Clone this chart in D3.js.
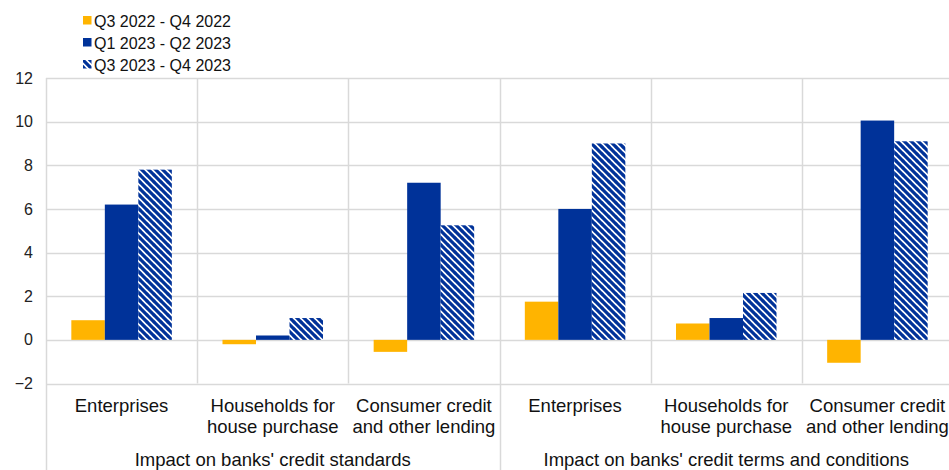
<!DOCTYPE html>
<html>
<head>
<meta charset="utf-8">
<script src="https://cdn.jsdelivr.net/npm/d3@7"></script>
<style>
  html, body { margin: 0; padding: 0; background: #fff; }
  svg { display: block; font-family: "Liberation Sans", Arial, sans-serif; }
</style>
</head>
<body>
<svg id="chart" width="949" height="470"></svg>
<script>
// Loan categories, grouped by the two survey questions
const groups = ["Impact on banks' credit standards", "Impact on banks' credit terms and conditions"];
const categoryLines = [
  ["Enterprises"],
  ["Households for", "house purchase"],
  ["Consumer credit", "and other lending"]
];
const seriesNames = ["Q3 2022 - Q4 2022", "Q1 2023 - Q2 2023", "Q3 2023 - Q4 2023"];

// Values per category: standards (3), then terms and conditions (3)
const q3q4_2022 = [0.9, -0.2, -0.55, 1.75, 0.75, -1.05];
const q1q2_2023 = [6.2, 0.2, 7.2, 6.0, 1.0, 10.05];
const q3q4_2023 = [7.8, 1.0, 5.25, 9.0, 2.15, 9.1];

const yTicks = [-2, 0, 2, 4, 6, 8, 10, 12];

const YELLOW = "#FFB400";
const BLUE = "#003299";
const GRID = "#d9d9d9";

const svg = d3.select("#chart");

// Diagonal stripe fill for the latest period
const defs = svg.append("defs");
const pat = defs.append("pattern")
  .attr("id", "stripes")
  .attr("patternUnits", "userSpaceOnUse")
  .attr("width", 7).attr("height", 7);
pat.append("rect").attr("width", 7).attr("height", 7).attr("fill", "#fff");
pat.append("path")
  .attr("d", "M-1,-1 L8,8 M-1,6 L1,8 M6,-1 L8,1")
  .attr("stroke", BLUE).attr("stroke-width", 3.2);

const plotLeft = 46, plotRight = 953, plotTop = 78, plotBottom = 383.5;

const cells = d3.range(6);
const x0 = d3.scaleBand().domain(cells).range([plotLeft, plotRight]).paddingInner(0).paddingOuter(0);
const x1 = d3.scaleBand().domain(d3.range(3)).range([0, x0.bandwidth()]).paddingInner(0).paddingOuter(0.756);
const y = d3.scaleLinear().domain([-2, 12]).range([plotBottom, plotTop]);

// Horizontal grid lines
svg.append("g").selectAll("line").data(yTicks).join("line")
  .attr("x1", plotLeft).attr("x2", 949)
  .attr("y1", d => Math.round(y(d)) + 0.5).attr("y2", d => Math.round(y(d)) + 0.5)
  .attr("stroke", GRID).attr("stroke-width", 1.3);

// Vertical separators between categories
svg.append("g").selectAll("line").data(cells).join("line")
  .attr("x1", d => Math.round(x0(d)) + 0.5).attr("x2", d => Math.round(x0(d)) + 0.5)
  .attr("y1", plotTop)
  .attr("y2", d => (d % 3 === 0) ? 470 : plotBottom)
  .attr("stroke", GRID).attr("stroke-width", 1.5);

// Y axis tick labels
const yAxis = d3.axisLeft(y).tickValues(yTicks).tickSize(0).tickPadding(0);
const gy = svg.append("g").attr("transform", "translate(33,0)").call(yAxis);
gy.select(".domain").remove();
gy.selectAll("text")
  .attr("font-size", 16).attr("fill", "#222")
  .attr("font-family", "Liberation Sans, Arial, sans-serif");

// Bars
const series = [
  { values: q3q4_2022, fill: YELLOW },
  { values: q1q2_2023, fill: BLUE },
  { values: q3q4_2023, fill: "url(#stripes)" }
];
series.forEach((s, si) => {
  svg.append("g").selectAll("rect").data(s.values).join("rect")
    .attr("x", (v, i) => x0(i) + x1(si))
    .attr("width", x1.bandwidth())
    .attr("y", v => y(Math.max(0, v)))
    .attr("height", v => Math.abs(y(v) - y(0)))
    .attr("fill", s.fill);
});

// Category labels
const catG = svg.append("g").attr("font-size", 18.5).attr("fill", "#111").attr("text-anchor", "middle");
cells.forEach(i => {
  const lines = categoryLines[i % 3];
  const t = catG.append("text")
    .attr("x", x0(i) + x0.bandwidth() / 2)
    .attr("y", 412);
  lines.forEach((ln, k) => {
    t.append("tspan").attr("x", x0(i) + x0.bandwidth() / 2).attr("dy", k === 0 ? 0 : 21).text(ln);
  });
});

// Group labels
svg.append("g").attr("font-size", 18.5).attr("fill", "#111").attr("text-anchor", "middle")
  .selectAll("text").data(groups).join("text")
  .attr("x", (d, g) => (x0(g * 3) + x0(g * 3 + 2) + x0.bandwidth()) / 2)
  .attr("y", 465.5)
  .text(d => d);

// Legend
const legendFills = [YELLOW, BLUE, "url(#stripes)"];
const lg = svg.append("g").selectAll("g").data(seriesNames).join("g")
  .attr("transform", (d, i) => `translate(83,${16 + i * 22})`);
lg.append("rect").attr("width", 8.5).attr("height", 8.5).attr("fill", (d, i) => legendFills[i]);
lg.append("text").attr("x", 11).attr("y", 10.5).attr("font-size", 16).attr("fill", "#111").text(d => d);
</script>
</body>
</html>
